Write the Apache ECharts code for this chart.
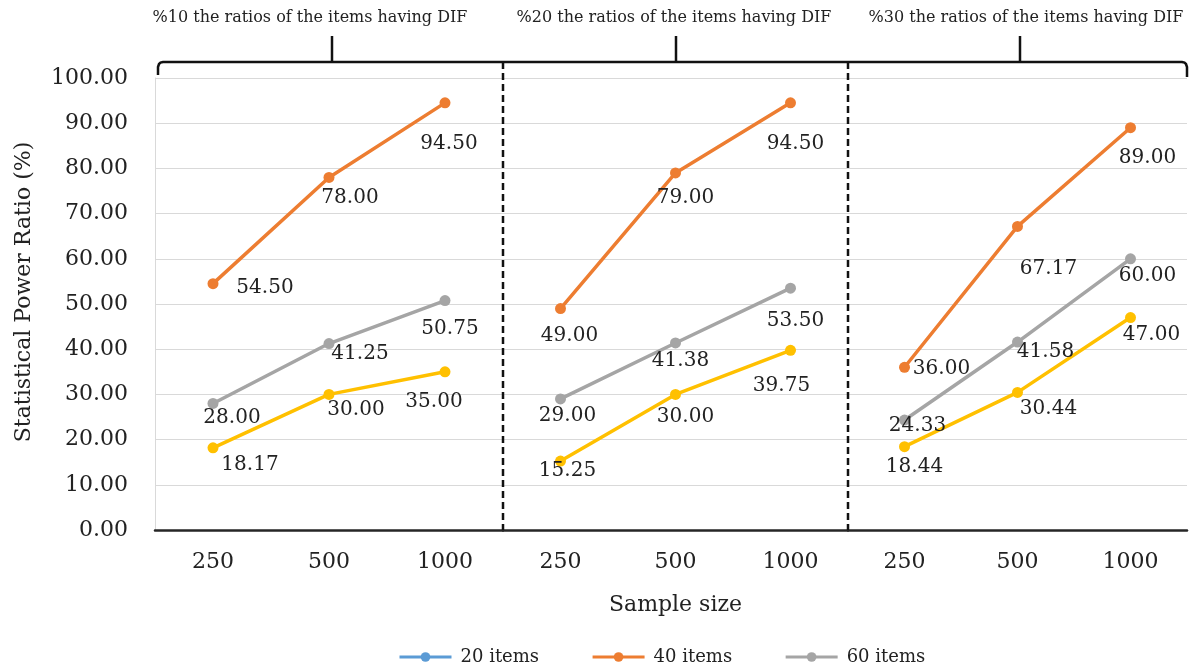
<!DOCTYPE html>
<html>
<head>
<meta charset="utf-8">
<script src="https://cdn.jsdelivr.net/npm/echarts@6/dist/echarts.min.js"></script>
<style>html,body{margin:0;padding:0;background:#fff}#c{width:1191px;height:668px}</style>
</head>
<body>
<div id="c"></div>
<script>
// ---- data ----
var categories = ['250', '500', '1000'];
var panelTitles = [
  '%10 the ratios of the items having DIF',
  '%20 the ratios of the items having DIF',
  '%30 the ratios of the items having DIF'
];
var seriesNames = ['20 items', '40 items', '60 items'];
var items20 = [[18.17, 30.00, 35.00], [15.25, 30.00, 39.75], [18.44, 30.44, 47.00]];
var items40 = [[54.50, 78.00, 94.50], [49.00, 79.00, 94.50], [36.00, 67.17, 89.00]];
var items60 = [[28.00, 41.25, 50.75], [29.00, 41.38, 53.50], [24.33, 41.58, 60.00]];
var yTicks = { min: 0, max: 100, interval: 10 };
var yName = 'Statistical Power Ratio (%)';
var xName = 'Sample size';

// ---- styles / layout (not data) ----
var FONT = 'DejaVu Serif';
var TXT = '#222222';
var colors = { line20: '#FFC000', legend20: '#5B9BD5', c40: '#ED7D31', c60: '#A5A5A5' };
var gridLeft = [155, 503, 848];
var gridWidth = [348, 345, 339];
var gridTop = 78, gridBottomY = 530, H = 668;
var bracketY = 62;
var off20 = [[[37,17],[27,15],[-11,30]], [[7,10],[10,22],[-9,35]], [[10,20],[31,16],[21,17]]];
var off40 = [[[52,4],[21,20],[4,41]], [[9,27],[10,25],[5,41]], [[37,2],[31,42],[17,30]]];
var off60 = [[[19,14],[31,10],[5,28]], [[7,17],[5,18],[5,33]], [[13,6],[28,10],[17,17]]];

var chart = echarts.init(document.getElementById('c'), null, { renderer: 'canvas' });

var grids = [], xAxes = [], yAxes = [], series = [];
for (var g = 0; g < 3; g++) {
  grids.push({ left: gridLeft[g], width: gridWidth[g], top: gridTop, bottom: H - gridBottomY, containLabel: false });
  xAxes.push({
    type: 'category', gridIndex: g, data: categories, boundaryGap: true,
    axisLine: { show: true, lineStyle: { color: '#262626', width: 2.5 } },
    axisTick: { show: false },
    axisLabel: { fontFamily: FONT, fontSize: 22, color: TXT, margin: 21 },
    name: g === 1 ? xName : '', nameLocation: 'middle', nameGap: 64,
    nameTextStyle: { fontFamily: FONT, fontSize: 22, color: TXT }
  });
  yAxes.push({
    type: 'value', gridIndex: g, min: yTicks.min, max: yTicks.max, interval: yTicks.interval,
    axisLine: { show: g === 0, lineStyle: { color: '#d9d9d9', width: 1 } },
    axisTick: { show: false },
    splitLine: { show: true, lineStyle: { color: '#d9d9d9', width: 1 } },
    axisLabel: { show: g === 0, fontFamily: FONT, fontSize: 22, color: TXT, margin: 27,
      formatter: function (v) { return v.toFixed(2); } },
    name: g === 0 ? yName : '', nameLocation: 'middle', nameGap: 120, nameRotate: 90,
    nameTextStyle: { fontFamily: FONT, fontSize: 22, color: TXT, padding: [0, 0, 0, 24] }
  });
  var sets = [
    { name: seriesNames[0], vals: items20[g], off: off20[g], color: colors.line20 },
    { name: seriesNames[1], vals: items40[g], off: off40[g], color: colors.c40 },
    { name: seriesNames[2], vals: items60[g], off: off60[g], color: colors.c60 }
  ];
  sets.forEach(function (s) {
    series.push({
      type: 'line', name: s.name, xAxisIndex: g, yAxisIndex: g,
      symbol: 'circle', symbolSize: 11,
      lineStyle: { color: s.color, width: 3.5 },
      itemStyle: { color: s.color },
      data: s.vals.map(function (v, i) {
        return { value: v, label: { offset: s.off[i] } };
      }),
      label: {
        show: true, position: 'inside', fontFamily: FONT, fontSize: 20, color: TXT,
        formatter: function (p) { return Number(p.value).toFixed(2); }
      },
      animation: false
    });
  });
}

// decorative bracket, dividers and panel titles
var graphics = [];
var L = gridLeft[0] + 3, R = gridLeft[2] + gridWidth[2], B = bracketY;
graphics.push({
  type: 'polyline', silent: true,
  shape: { points: [[L, B + 13], [L, B + 5], [L + 1, B + 2], [L + 2.5, B + 0.6], [L + 5, B],
    [R - 5, B], [R - 2.5, B + 0.6], [R - 1, B + 2], [R, B + 5], [R, B + 15]] },
  style: { stroke: '#111', lineWidth: 2.5, fill: null }
});
var tickX = [332, 676, 1020];
var titleX = [310, 674, 1026];
for (var k = 0; k < 3; k++) {
  graphics.push({ type: 'line', silent: true,
    shape: { x1: tickX[k], y1: B, x2: tickX[k], y2: B - 26 },
    style: { stroke: '#111', lineWidth: 2.5 } });
  graphics.push({ type: 'text', silent: true, x: titleX[k], y: 18,
    style: { text: panelTitles[k], font: '16px "' + FONT + '"', fill: '#222',
      textAlign: 'center', textVerticalAlign: 'middle' } });
}
[1, 2].forEach(function (g) {
  graphics.push({ type: 'line', silent: true, z: 10,
    shape: { x1: gridLeft[g], y1: B, x2: gridLeft[g], y2: gridBottomY },
    style: { stroke: '#111', lineWidth: 2.5, lineDash: [7, 4] } });
});

chart.setOption({
  animation: false,
  backgroundColor: '#fff',
  grid: grids, xAxis: xAxes, yAxis: yAxes, series: series,
  legend: {
    left: 393, top: 643, itemWidth: 52, itemHeight: 12, itemGap: 52,
    textStyle: { fontFamily: FONT, fontSize: 18, color: TXT, padding: [0, 0, 0, 4] },
    data: [
      { name: seriesNames[0], itemStyle: { color: colors.legend20 }, lineStyle: { color: colors.legend20, width: 3 } },
      { name: seriesNames[1], lineStyle: { width: 3 } },
      { name: seriesNames[2], lineStyle: { width: 3 } }
    ]
  },
  graphic: graphics
});
</script>
</body>
</html>
